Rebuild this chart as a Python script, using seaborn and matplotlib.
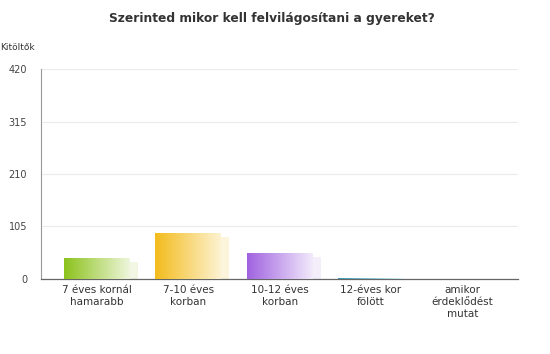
import numpy as np
import pandas as pd
import matplotlib
matplotlib.use('Agg')
import matplotlib.pyplot as plt
import seaborn as sns
from matplotlib.colors import LinearSegmentedColormap

categories = ['7 éves kornál\nhamarabb', '7-10 éves\nkorban', '10-12 éves\nkorban',
              '12-éves kor\nfölött', 'amikor\nérdeklődést\nmutat']
answers = [42, 92, 52, 2, 0]
yticks = [0, 105, 210, 315, 420]
title = 'Szerinted mikor kell felvilágosítani a gyereket?'
ylabel = 'Kitöltők'

dark = ['#8cc21c', '#f3bb1c', '#a062e0', '#3a98b0', '#999999']
light = ['#eef6dc', '#fdf3d2', '#f2eafb', '#d8eef3', '#eeeeee']

df = pd.DataFrame({'cat': categories, 'n': answers})

sns.set_style('white')
plt.rcParams['font.family'] = ['DejaVu Sans']

fig = plt.figure(figsize=(5.5, 3.54), dpi=100)
ax = fig.add_axes([0.0745, 0.212, 0.8675, 0.593])

# soft shadow behind the bars
sns.barplot(data=df, x='cat', y='n', ax=ax, width=0.72, color='#dddddd',
            saturation=1, zorder=1)
shadow = list(ax.patches)
for p, lc in zip(shadow, light):
    p.set_x(p.get_x() + 0.09)
    p.set_height(max(p.get_height() - 8, 0))
    p.set_facecolor(lc)
    p.set_edgecolor('none')
    p.set_alpha(0.8)

sns.barplot(data=df, x='cat', y='n', ax=ax, width=0.72, color='#cccccc',
            saturation=1, zorder=2)
bars = ax.patches[len(shadow):]

grad = np.linspace(0, 1, 256).reshape(1, -1)
for p, dc, lc in zip(bars, dark, light):
    x0, w, h = p.get_x(), p.get_width(), p.get_height()
    p.set_edgecolor('none')
    if h <= 0:
        continue
    cmap = LinearSegmentedColormap.from_list('g', [dc, lc])
    im = ax.imshow(grad, extent=[x0, x0 + w, 0, h], aspect='auto', cmap=cmap,
                   zorder=3, interpolation='bilinear')
    im.set_clip_path(p)
    p.set_facecolor('none')

ax.set_xlim(-0.613, 4.61)
ax.set_ylim(0, 420)
ax.set_yticks(yticks)
ax.set_yticklabels([str(v) for v in yticks], fontsize=7, color='#444444')
ax.tick_params(axis='x', labelsize=7.5, colors='#333333', length=0, pad=4)
for t in ax.get_xticklabels():
    t.set_linespacing(1.3)
ax.tick_params(axis='y', length=0, pad=10)
ax.set_xlabel('')
ax.set_ylabel('')
ax.grid(axis='y', color='#ebebeb', linewidth=0.8)
ax.set_axisbelow(True)
for s in ['top', 'right']:
    ax.spines[s].set_visible(False)
ax.spines['left'].set_color('#999999')
ax.spines['left'].set_linewidth(0.8)
ax.spines['bottom'].set_color('#666666')
ax.spines['bottom'].set_linewidth(0.9)

fig.text(0.0, 0.865, ylabel, fontsize=6.5, color='#333333', ha='left', va='center')
fig.text(0.495, 0.947, title, fontsize=8.8, fontweight='bold', color='#333333',
         ha='center', va='center')

fig.savefig('out.png', dpi=100)
